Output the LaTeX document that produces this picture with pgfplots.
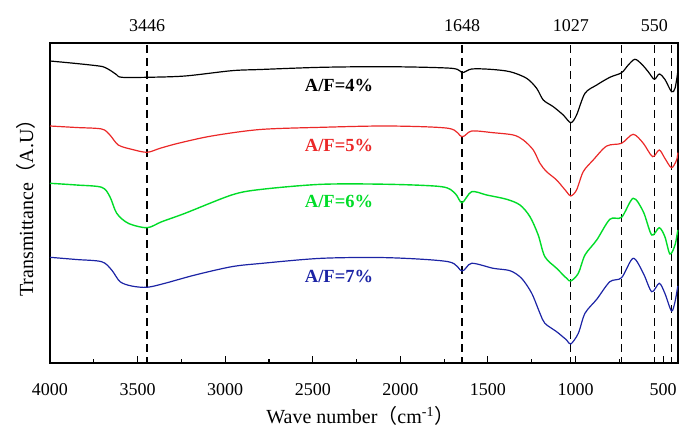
\documentclass[border=0pt]{standalone}
\usepackage{pgfplots}
\pgfplotsset{compat=1.18}
\usepackage{fontspec}
\setmainfont{Liberation Serif}
\newfontfamily\cjk{Noto Sans CJK SC}
\definecolor{cred}{RGB}{235,40,40}
\definecolor{cgreen}{RGB}{0,220,40}
\definecolor{cblue}{RGB}{28,36,165}
\tikzset{vref/.style={black, line width=1.1pt, dash pattern=on 8pt off 5pt}}
\begin{document}
\begin{tikzpicture}
\path[use as bounding box] (-50pt,-79pt) rectangle (646pt,363pt);
\begin{axis}[
  at={(0,0)}, anchor=south west,
  scale only axis, width=628pt, height=320pt,
  x dir=reverse, xmin=415, xmax=4000, ymin=0, ymax=320,
  clip=false,
  axis line style={line width=1.1pt},
  xtick={500,1000,1500,2000,2500,3000,3500,4000},
  minor x tick num=1,
  xtick pos=lower, tick align=inside,
  major tick length=7pt, minor tick length=4pt,
  every tick/.style={line width=1.1pt, black},
  ytick=\empty,
  /pgf/number format/assume math mode=true,
  /pgf/number format/set thousands separator={},
  xticklabel style={font=\fontsize{18}{18}\selectfont, anchor=base, yshift=-32pt},
  every axis x label/.style={at={(axis description cs:0.494,-0.1906)}, anchor=base},
  every axis y label/.style={at={(axis description cs:-0.027,0.5)}, rotate=90, anchor=base},
  label style={font=\fontsize{20}{20}\selectfont},
  xlabel={Wave number{\cjk （}cm\textsuperscript{-1}{\cjk ）}},
  ylabel={Transmittance{\cjk （}A.U{\cjk ）}},
]
\draw[vref] (axis cs:3446,318) -- (axis cs:3446,0);
\draw[vref] (axis cs:1648,318) -- (axis cs:1648,0);
\draw[vref] (axis cs:1027,318) -- (axis cs:1027,0);
\draw[vref] (axis cs:737,318) -- (axis cs:737,0);
\draw[vref] (axis cs:550,318) -- (axis cs:550,0);
\draw[vref] (axis cs:452,318) -- (axis cs:452,0);
\node[anchor=base, font=\fontsize{18}{18}\selectfont] at (axis cs:3446,331.3) {3446};
\node[anchor=base, font=\fontsize{18}{18}\selectfont] at (axis cs:1648,331.3) {1648};
\node[anchor=base, font=\fontsize{18}{18}\selectfont] at (axis cs:1027,331.3) {1027};
\node[anchor=base, font=\fontsize{18}{18}\selectfont] at (axis cs:550,331.3) {550};
\addplot[black, line width=1.2pt, smooth, tension=0.5] coordinates {
(4000,302) (3850,299.5) (3720,297) (3686,295.5) (3650,292) (3620,288.3) (3591,285.7) (3446,285.7) (3229,287) (2963,292.3)
(2800,293.5) (2449,295.7) (2069,296.3) (1707,294.7) (1648,290.3) (1593,294) (1488,293.7)
(1374,291.3) (1279,284.7) (1222,274.7) (1184,263) (1127,256.3) (1070,248) (1027,240.3)
(994,248) (946,269.7) (879,278) (804,285.7) (737,290.3) (699,298) (661,303.7) (623,299)
(585,291.3) (550,283.7) (522,289) (490,283.7) (452,271.3) (432,274.7) (416,291.3)
};
\addplot[cred, line width=1.2pt, smooth, tension=0.5] coordinates {
(4000,237) (3850,235.5) (3705,234) (3658,228) (3610,218) (3534,213.7) (3446,210.7) (3372,214.7)
(3268,219.7) (3077,227) (2800,233.5) (2449,235.7) (2069,237) (1726,234.7) (1648,226.3)
(1593,232) (1470,230.3) (1355,228) (1298,223) (1241,213) (1203,199.7) (1165,191.3)
(1108,183) (1051,171.3) (1027,167) (994,173) (956,191.3) (899,203) (822,217) (737,219.7)
(671,228.7) (613,219.7) (560,206.3) (522,213) (490,204.7) (452,195.3) (423,203) (416,210.3)
};
\addplot[cgreen, line width=1.4pt, smooth, tension=0.5] coordinates {
(4000,179.7) (3850,178) (3705,175.7) (3658,166.3) (3619,149.7) (3553,139.7) (3446,135.3) (3362,141.3)
(3229,149.7) (2963,168) (2800,173.5) (2449,178.7) (2069,178.7) (1764,176.3) (1688,169.7)
(1648,160.3) (1593,171.3) (1507,168) (1393,163.7) (1317,158) (1260,146.3) (1213,128)
(1175,106.3) (1108,94.7) (1051,84.7) (1027,82) (984,89.7) (946,108) (879,123) (804,143.7)
(737,145.7) (671,164.7) (613,151.3) (565,128) (522,135.3) (490,126.3) (461,109) (432,118) (416,133)
};
\addplot[cblue, line width=1.2pt, smooth, tension=0.5] coordinates {
(4000,105.7) (3850,103.5) (3705,101.3) (3648,93) (3600,81.3) (3534,77) (3446,75.7) (3344,79.7)
(3172,88) (2963,96.3) (2800,99.5) (2449,104.7) (2069,105.3) (1726,101.3) (1648,92)
(1593,99.7) (1470,94.7) (1374,92.3) (1308,84.7) (1250,69.7) (1203,49.7) (1175,39.7)
(1108,31.3) (1051,23) (1027,19) (984,29.7) (946,49.7) (879,63.7) (804,81.3) (737,85.3)
(671,104.7) (613,89.7) (565,71.3) (522,79.7) (490,69.7) (452,52) (432,61.3) (416,77)
};
\node[black, font=\fontsize{18.5}{18.5}\selectfont\bfseries] at (axis cs:2350,278) {A/F=4\%};
\node[cred, font=\fontsize{18.5}{18.5}\selectfont\bfseries] at (axis cs:2350,218) {A/F=5\%};
\node[cgreen, font=\fontsize{18.5}{18.5}\selectfont\bfseries] at (axis cs:2350,161.3) {A/F=6\%};
\node[cblue, font=\fontsize{18.5}{18.5}\selectfont\bfseries] at (axis cs:2350,86.3) {A/F=7\%};
\end{axis}
\end{tikzpicture}
\end{document}
